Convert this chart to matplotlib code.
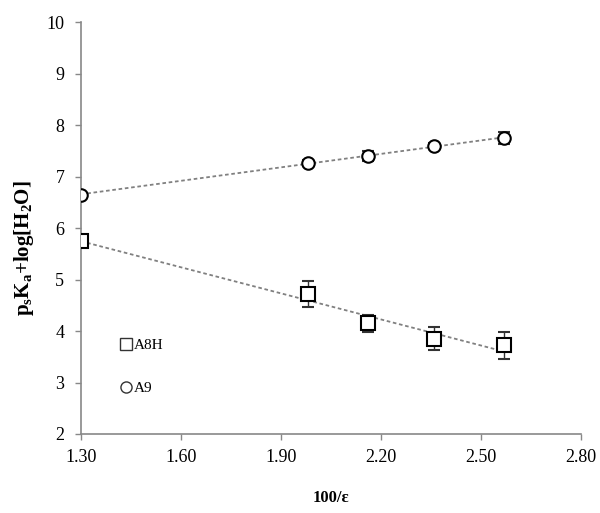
import matplotlib
matplotlib.use("Agg")
import matplotlib.pyplot as plt
import numpy as np
from matplotlib.lines import Line2D

plt.rcParams['font.family'] = ['Liberation Serif', 'DejaVu Serif']
plt.rcParams['mathtext.fontset'] = 'custom'
plt.rcParams['mathtext.rm'] = 'Liberation Serif'
plt.rcParams['mathtext.bf'] = 'Liberation Serif:bold'

x_a8h = [1.30, 1.98, 2.16, 2.36, 2.57]
y_a8h = [5.75, 4.72, 4.15, 3.85, 3.72]
err_a8h = [0.0, 0.26, 0.16, 0.22, 0.26]

x_a9 = [1.30, 1.98, 2.16, 2.36, 2.57]
y_a9 = [6.65, 7.26, 7.40, 7.59, 7.75]
err_a9 = [0.0, 0.06, 0.10, 0.06, 0.12]

xticks = [1.30, 1.60, 1.90, 2.20, 2.50, 2.80]
yticks = [2, 3, 4, 5, 6, 7, 8, 9, 10]

fig = plt.figure(figsize=(6.0, 5.13), dpi=100)
ax = fig.add_axes([0.135, 0.154, 0.833, 0.803])

for xs, ys in [(x_a8h, y_a8h), (x_a9, y_a9)]:
    p = np.polyfit(xs, ys, 1)
    xx = np.array([min(xs), max(xs)])
    ax.plot(xx, np.polyval(p, xx), linestyle=(0, (2, 1.5)), color='#808080', lw=1.3, zorder=1)

ax.errorbar(x_a8h, y_a8h, yerr=err_a8h, fmt='s', ms=10, mfc='white', mec='black', mew=1.5,
            ecolor='#333333', elinewidth=1, capsize=4, label='A8H', zorder=3)
ax.errorbar(x_a9, y_a9, yerr=err_a9, fmt='o', ms=9, mfc='white', mec='black', mew=1.5,
            ecolor='#333333', elinewidth=1, capsize=4, label='A9', zorder=3)

ax.set_xlim(1.30, 2.80)
ax.set_ylim(2, 10)
ax.set_xticks(xticks)
ax.set_xticklabels([f"{t:.2f}" for t in xticks])
ax.set_yticks(yticks)
ax.tick_params(labelsize=13, length=4, color='#888888', width=1)
ax.tick_params(axis='x', pad=7)
ax.tick_params(axis='y', pad=8)
for s in ['top', 'right']:
    ax.spines[s].set_visible(False)
for s in ['left', 'bottom']:
    ax.spines[s].set_color('#888888')
    ax.spines[s].set_linewidth(1.2)

ax.set_ylabel(r'$\mathbf{p_sK_a{+}log[H_2O]}$', fontsize=15)
ax.yaxis.set_label_coords(-0.09, 0.45)
ax.set_xlabel('100/ɛ', fontsize=12, fontweight='bold', labelpad=17)

h = [Line2D([], [], marker='s', ls='', ms=8, mfc='white', mec='#333333', mew=1),
     Line2D([], [], marker='o', ls='', ms=8, mfc='white', mec='#333333', mew=1)]
ax.legend(h, ['A8H', 'A9'], loc='upper left', bbox_to_anchor=(0.045, 0.265), frameon=False,
          fontsize=11, handletextpad=0.0, handlelength=1.1, labelspacing=1.9)

fig.savefig('out.png', dpi=100)
